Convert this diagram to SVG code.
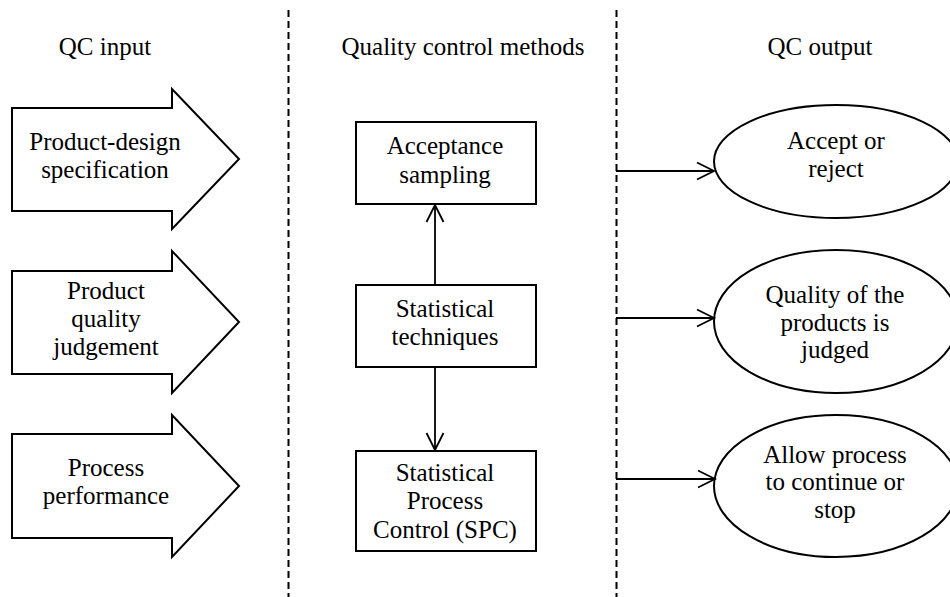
<svg xmlns="http://www.w3.org/2000/svg" width="950" height="597" viewBox="0 0 950 597">
  <defs>
    <marker id="open" viewBox="0 0 20 20" refX="18" refY="10" markerWidth="20" markerHeight="20" markerUnits="userSpaceOnUse" orient="auto">
      <path d="M1,1.5 L18,10 L1,18.5" fill="none" stroke="#000" stroke-width="1.8"/>
    </marker>
  </defs>
  <rect width="950" height="597" fill="#fff"/>

  <!-- column dividers -->
  <g id="dividers" stroke="#000" stroke-width="2" stroke-dasharray="7 4" fill="none">
    <line x1="288.5" y1="10" x2="288.5" y2="597"/>
    <line x1="616.5" y1="10" x2="616.5" y2="597"/>
  </g>

  <g id="diagram" font-family="Liberation Serif" font-size="25" text-anchor="middle">
    <!-- column headings -->
    <g id="headings">
      <text x="105" y="55">QC input</text>
      <text x="463" y="55">Quality control methods</text>
      <text x="820" y="55">QC output</text>
    </g>

    <!-- inputs -->
    <g id="input-spec">
      <path fill="#fff" stroke="#000" stroke-width="2" d="M12,108 H172 V89 L239,159 L172,229 V211 H12 Z"/>
      <text x="105" y="150">Product-design</text>
      <text x="105" y="178">specification</text>
    </g>
    <g id="input-judgement">
      <path fill="#fff" stroke="#000" stroke-width="2" d="M12,271 H172 V251 L239,322 L172,393 V374 H12 Z"/>
      <text x="106" y="299">Product</text>
      <text x="106" y="327">quality</text>
      <text x="106" y="355">judgement</text>
    </g>
    <g id="input-process">
      <path fill="#fff" stroke="#000" stroke-width="2" d="M12,434 H172 V415 L239,486 L172,557 V538 H12 Z"/>
      <text x="106" y="476">Process</text>
      <text x="106" y="504">performance</text>
    </g>

    <!-- methods -->
    <g id="method-acceptance">
      <rect fill="#fff" stroke="#000" stroke-width="2" x="356" y="122" width="180" height="82"/>
      <text x="445" y="154">Acceptance</text>
      <text x="445" y="183">sampling</text>
    </g>
    <g id="method-techniques">
      <rect fill="#fff" stroke="#000" stroke-width="2" x="356" y="285" width="180" height="82"/>
      <text x="445" y="317">Statistical</text>
      <text x="445" y="345">techniques</text>
    </g>
    <g id="method-spc">
      <rect fill="#fff" stroke="#000" stroke-width="2" x="356" y="451" width="180" height="100"/>
      <text x="445" y="481">Statistical</text>
      <text x="445" y="509">Process</text>
      <text x="445" y="538">Control (SPC)</text>
    </g>

    <!-- outputs -->
    <g id="output-accept">
      <ellipse fill="#fff" stroke="#000" stroke-width="2" cx="836" cy="161.5" rx="122" ry="56.5"/>
      <text x="836" y="149">Accept or</text>
      <text x="836" y="177">reject</text>
    </g>
    <g id="output-judged">
      <ellipse fill="#fff" stroke="#000" stroke-width="2" cx="836" cy="321.5" rx="122" ry="71.5"/>
      <text x="835" y="303">Quality of the</text>
      <text x="835" y="331">products is</text>
      <text x="835" y="358">judged</text>
    </g>
    <g id="output-allow">
      <ellipse fill="#fff" stroke="#000" stroke-width="2" cx="836" cy="486" rx="122" ry="71"/>
      <text x="835" y="463">Allow process</text>
      <text x="835" y="490">to continue or</text>
      <text x="835" y="518">stop</text>
    </g>
  </g>

  <!-- connectors -->
  <g id="connectors" stroke="#000" stroke-width="1.8" fill="none" marker-end="url(#open)">
    <line x1="435" y1="285" x2="435" y2="205"/>
    <line x1="435" y1="367" x2="435" y2="450"/>
    <line x1="616" y1="171" x2="714" y2="171"/>
    <line x1="616" y1="318" x2="714" y2="318"/>
    <line x1="616" y1="479" x2="715" y2="479"/>
  </g>
</svg>
